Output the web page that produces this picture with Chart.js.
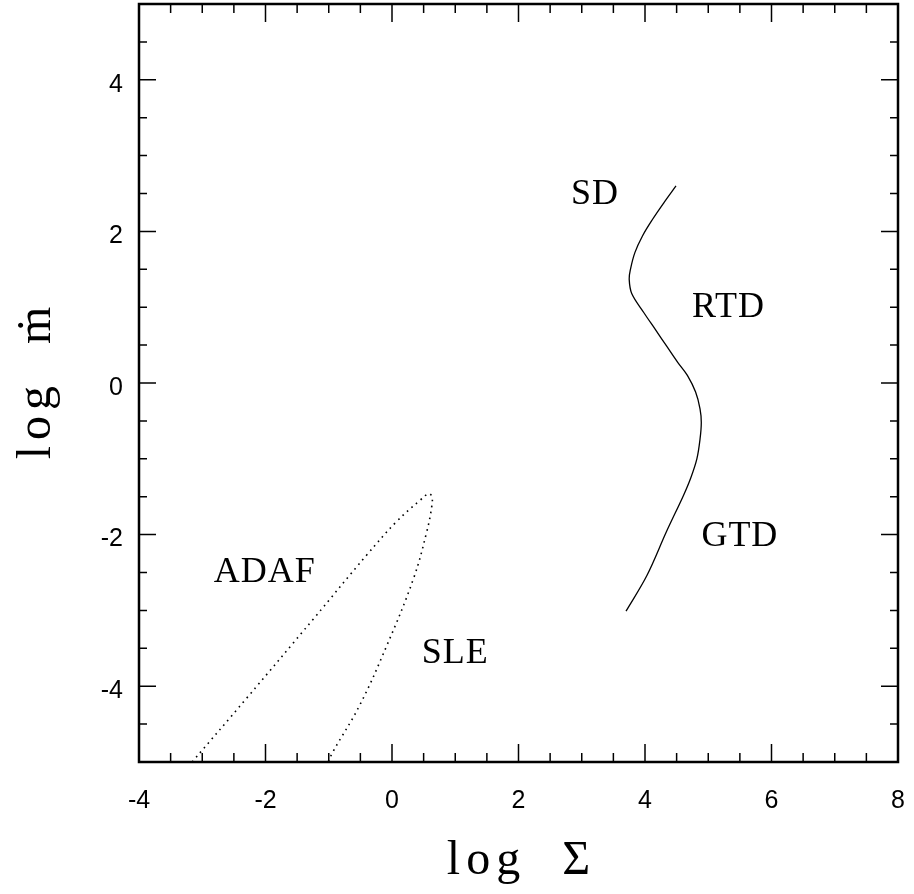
<!DOCTYPE html>
<html>
<head>
<meta charset="utf-8">
<script src="https://cdn.jsdelivr.net/npm/chart.js@4.4.1/dist/chart.umd.min.js"></script>
<style>
  html, body { margin: 0; padding: 0; background: #fff; }
  #wrap { width: 914px; height: 894px; }
</style>
</head>
<body>
<div id="wrap"><canvas id="diskChart" width="914" height="894"></canvas></div>
<script>
// thermal equilibrium S-curve (solid line)
const sCurveLogSigma = [4.49, 4.30, 4.12, 3.96, 3.84, 3.77, 3.75, 3.79, 3.98, 4.16, 4.34, 4.52, 4.67, 4.80, 4.87, 4.89, 4.87, 4.82, 4.72, 4.61, 4.34, 4.03, 3.70];
const sCurveLogMdot  = [2.60, 2.38, 2.16, 1.94, 1.72, 1.50, 1.37, 1.18, 0.93, 0.71, 0.49, 0.27, 0.10, -0.12, -0.34, -0.52, -0.74, -1.00, -1.26, -1.48, -1.96, -2.54, -3.01];

// ADAF / SLE branch (dotted line)
const adafLogSigma = [-3.16, -2.30, -1.24, -0.40, 0.07, 0.44, 0.58, 0.63, 0.63, 0.55, 0.34, -0.08, -0.51, -0.93, -1.01];
const adafLogMdot  = [-5.00, -4.16, -3.11, -2.27, -1.83, -1.55, -1.46, -1.50, -1.62, -1.96, -2.58, -3.46, -4.25, -4.86, -5.00];

// region labels
const regionNames    = ['SD', 'RTD', 'GTD', 'ADAF', 'SLE'];
const regionLogSigma = [3.21, 5.32, 5.50, -2.01, 1.00];
const regionLogMdot  = [2.49, 0.99, -2.03, -2.50, -3.57];

// tick labels and axis titles
const xTickValues = [-4, -2, 0, 2, 4, 6, 8];
const yTickValues = [-4, -2, 0, 2, 4];
const xTitle = 'log  Σ';
const yTitle = 'log  ṁ';

const toPoints = (xs, ys) => xs.map((x, i) => ({ x: x, y: ys[i] }));

// frame, inward ticks on all four sides, axis titles and region names
const frameAndTicks = {
  id: 'frameAndTicks',
  afterDatasetsDraw(chart) {
    const { ctx, chartArea: a, scales: { x, y } } = chart;
    ctx.save();
    ctx.strokeStyle = '#000';
    ctx.lineWidth = 1.5;
    ctx.beginPath();
    for (let v = x.min; v <= x.max + 1e-9; v += 0.5) {
      const px = x.getPixelForValue(v);
      const len = xTickValues.includes(v) ? 18 : 9;
      ctx.moveTo(px, a.bottom); ctx.lineTo(px, a.bottom - len);
      ctx.moveTo(px, a.top); ctx.lineTo(px, a.top + len);
    }
    for (let v = y.min; v <= y.max + 1e-9; v += 0.5) {
      const py = y.getPixelForValue(v);
      const len = yTickValues.includes(v) ? 17 : 8;
      ctx.moveTo(a.left, py); ctx.lineTo(a.left + len, py);
      ctx.moveTo(a.right, py); ctx.lineTo(a.right - len, py);
    }
    ctx.stroke();

    ctx.lineWidth = 2.5;
    ctx.strokeRect(a.left, a.top, a.right - a.left, a.bottom - a.top);

    ctx.fillStyle = '#000';
    ctx.textAlign = 'center';

    // axis titles (stretched lettering like the original)
    ctx.font = '48px "Liberation Serif"';
    ctx.letterSpacing = '6px';
    ctx.textBaseline = 'alphabetic';
    ctx.fillText(xTitle, (a.left + a.right) / 2 + 3, 874);
    ctx.save();
    ctx.translate(50, y.getPixelForValue(0));
    ctx.rotate(-Math.PI / 2);
    ctx.fillText(yTitle, 3, 0);
    ctx.restore();

    ctx.letterSpacing = '1px';
    ctx.font = '36px "Liberation Serif"';
    ctx.textBaseline = 'middle';
    regionNames.forEach((name, i) => {
      ctx.fillText(name, x.getPixelForValue(regionLogSigma[i]), y.getPixelForValue(regionLogMdot[i]));
    });
    ctx.restore();
  }
};

new Chart(document.getElementById('diskChart'), {
  type: 'scatter',
  data: {
    datasets: [
      {
        label: 'S-curve',
        data: toPoints(sCurveLogSigma, sCurveLogMdot),
        showLine: true,
        borderColor: '#000',
        borderWidth: 1.3,
        tension: 0.35,
        pointRadius: 0,
      },
      {
        label: 'ADAF',
        data: toPoints(adafLogSigma, adafLogMdot),
        showLine: true,
        borderColor: '#000',
        borderWidth: 1.6,
        borderDash: [1.6, 4.4],
        tension: 0.4,
        pointRadius: 0,
      },
    ],
  },
  options: {
    responsive: false,
    animation: false,
    layout: { padding: { top: 4, right: 16, left: 0, bottom: 0 } },
    scales: {
      x: {
        type: 'linear',
        min: -4,
        max: 8,
        afterFit: s => { s.height = 132; s.paddingLeft = 0; s.paddingRight = 0; },
        afterBuildTicks: s => { s.ticks = xTickValues.map(v => ({ value: v })); },
        grid: { display: false, drawTicks: false },
        border: { display: false },
        ticks: {
          padding: 24,
          color: '#000',
          font: { family: '"Liberation Sans", Arial, sans-serif', size: 25 },
          callback: v => String(v),
          maxRotation: 0,
        },
      },
      y: {
        type: 'linear',
        min: -5,
        max: 5,
        afterFit: s => { s.width = 139; s.paddingTop = 0; s.paddingBottom = 0; },
        afterBuildTicks: s => { s.ticks = yTickValues.map(v => ({ value: v })); },
        grid: { display: false, drawTicks: false },
        border: { display: false },
        ticks: {
          padding: 16,
          labelOffset: 5,
          color: '#000',
          font: { family: '"Liberation Sans", Arial, sans-serif', size: 25 },
          callback: v => String(v),
        },
      },
    },
    plugins: {
      legend: { display: false },
      tooltip: { enabled: false },
    },
  },
  plugins: [frameAndTicks],
});
</script>
</body>
</html>
